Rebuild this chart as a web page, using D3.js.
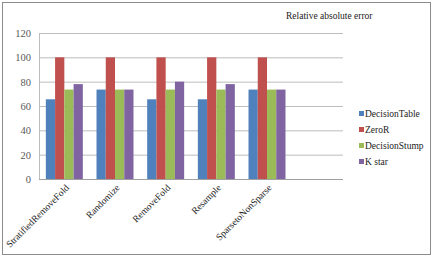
<!DOCTYPE html>
<html>
<head>
<meta charset="utf-8">
<script src="https://cdn.jsdelivr.net/npm/d3@7"></script>
<style>
  body { margin: 0; background: #fff; }
  svg text { font-family: "Liberation Serif", "Times New Roman", serif !important; }
</style>
</head>
<body>
<div id="chart"></div>
<script>
const categories = ["StratifiedRemoveFold", "Randomize", "RemoveFold", "Resample", "SparsetoNonSparse", ""]
const seriesNames = ["DecisionTable", "ZeroR", "DecisionStump", "K star"]
const decisionTable = [65.5, 73.5, 65.5, 65.5, 73.5]
const zeroR = [100, 100, 100, 100, 100]
const decisionStump = [73.5, 73.5, 73.5, 73.5, 73.5]
const kStar = [78, 73.5, 80, 78, 73.5]
const yTicks = [0, 20, 40, 60, 80, 100, 120]

const seriesValues = [decisionTable, zeroR, decisionStump, kStar]
const colors = ["#4f81bd", "#c0504d", "#9bbb59", "#8064a2"]

const W = 433, H = 257
const margin = { top: 33, right: 90, bottom: 78, left: 39 }
const width = W - margin.left - margin.right
const height = H - margin.top - margin.bottom

const svg = d3.select("#chart").append("svg")
  .attr("width", W)
  .attr("height", H)
  .attr("font-family", "Liberation Serif, serif")

// outer frame
svg.append("rect")
  .attr("x", 2.5).attr("y", 2.5)
  .attr("width", W - 5).attr("height", H - 5)
  .attr("fill", "#fff")
  .attr("stroke", "#8c8c8c")

const g = svg.append("g")
  .attr("transform", "translate(" + margin.left + "," + margin.top + ")")

const x = d3.scaleBand()
  .domain(categories)
  .range([0, width])
  .paddingInner(0.27)
  .paddingOuter(0.135)

const x1 = d3.scaleBand()
  .domain(seriesNames)
  .range([0, x.bandwidth()])

const y = d3.scaleLinear()
  .domain([0, 120])
  .range([height, 0])

// gridlines
g.append("g")
  .attr("class", "grid")
  .call(d3.axisLeft(y).tickValues(yTicks).tickSize(-width).tickFormat(""))
  .call(s => s.select(".domain").remove())
  .call(s => s.selectAll("line").attr("stroke", "#bdbdbd"))

// y axis line + labels
g.append("line")
  .attr("x1", 0.5).attr("x2", 0.5)
  .attr("y1", 0).attr("y2", height)
  .attr("stroke", "#bdbdbd")

g.append("g")
  .call(d3.axisLeft(y).tickValues(yTicks).tickSize(0).tickPadding(8))
  .attr("font-family", "Liberation Serif, serif")
  .call(s => s.select(".domain").remove())
  .call(s => s.selectAll("text")
    .attr("fill", "#595959")
    .style("font-size", "10.5px"))

// bars
const rows = categories.slice(0, decisionTable.length).map((c, i) => ({
  cat: c,
  vals: seriesNames.map((s, j) => ({ name: s, value: seriesValues[j][i], color: colors[j] }))
}))

g.selectAll(".group")
  .data(rows)
  .enter().append("g")
  .attr("class", "group")
  .attr("transform", d => "translate(" + x(d.cat) + ",0)")
  .selectAll("rect")
  .data(d => d.vals)
  .enter().append("rect")
  .attr("x", d => x1(d.name))
  .attr("y", d => y(d.value))
  .attr("width", x1.bandwidth())
  .attr("height", d => height - y(d.value))
  .attr("fill", d => d.color)

// x axis line
g.append("line")
  .attr("x1", 0).attr("x2", width)
  .attr("y1", height + 0.5).attr("y2", height + 0.5)
  .attr("stroke", "#a0a0a0")

// x labels rotated
g.selectAll(".xlabel")
  .data(categories.filter(c => c !== ""))
  .enter().append("text")
  .attr("class", "xlabel")
  .attr("transform", d => "translate(" + (x(d) + x.bandwidth() / 2 + 3) + "," + (height + 7) + ") rotate(-45)")
  .attr("text-anchor", "end")
  .attr("dy", "0.35em")
  .style("font-size", "9.5px")
  .attr("fill", "#222")
  .text(d => d)

// title
svg.append("text")
  .attr("x", 286)
  .attr("y", 19)
  .style("font-size", "9.5px")
  .attr("fill", "#222")
  .text("Relative  absolute error")

// legend
const legend = svg.append("g")
  .attr("transform", "translate(359,114)")

const item = legend.selectAll(".legend")
  .data(seriesNames)
  .enter().append("g")
  .attr("class", "legend")
  .attr("transform", (d, i) => "translate(0," + i * 16 + ")")

item.append("rect")
  .attr("x", 0).attr("y", -3)
  .attr("width", 5).attr("height", 5)
  .attr("fill", (d, i) => colors[i])

item.append("text")
  .attr("x", 6)
  .attr("y", 0)
  .attr("dy", "0.35em")
  .style("font-size", "9.5px")
  .attr("fill", "#222")
  .text(d => d)
</script>
</body>
</html>
